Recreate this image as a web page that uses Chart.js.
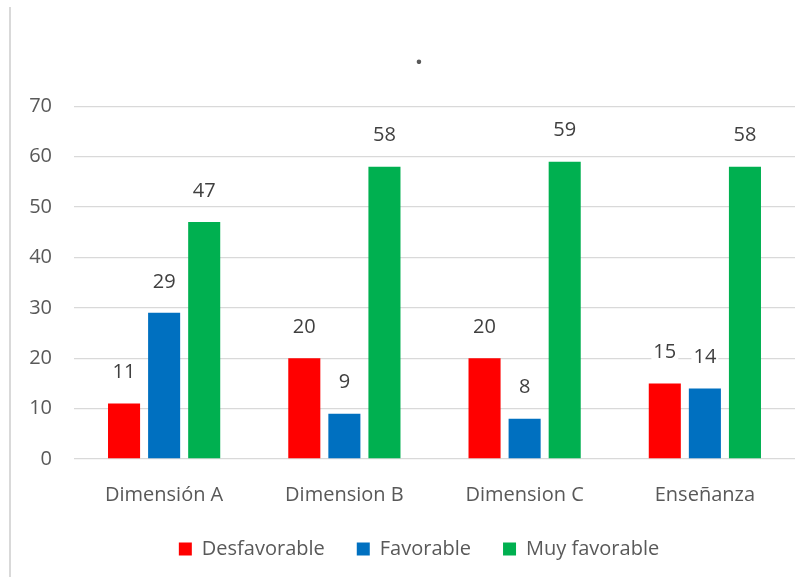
<!DOCTYPE html>
<html>
<head>
<meta charset="utf-8">
<script src="https://cdn.jsdelivr.net/npm/chart.js@4/dist/chart.umd.min.js"></script>
<style>
  html, body { margin: 0; padding: 0; background: #ffffff; }
  #wrap { position: relative; width: 810px; height: 577px; overflow: hidden; }
  #edge { position: absolute; left: 9px; top: 7px; width: 2px; height: 570px; background: #D9D9D9; z-index: 2; }
  canvas { position: absolute; left: 0; top: 0; }
</style>
</head>
<body>
<div id="wrap">
  <div id="edge"></div>
  <canvas id="c" width="840" height="577"></canvas>
</div>
<script>
const categories = ['Dimensión A', 'Dimension B', 'Dimension C', 'Enseñanza'];
const seriesNames = ['Desfavorable', 'Favorable', 'Muy favorable'];
const desfavorable = [11, 20, 20, 15];
const favorable = [29, 9, 8, 14];
const muyFavorable = [47, 58, 59, 58];
const yTicks = [0, 10, 20, 30, 40, 50, 60, 70];
const chartTitle = '.';

const colors = ['#FF0000', '#0070C0', '#00B050'];
const textColor = '#595959';
const FONT = "'Open Sans', 'Noto Sans', sans-serif";

const valueLabels = {
  id: 'valueLabels',
  afterDatasetsDraw(chart) {
    const ctx = chart.ctx;
    ctx.save();
    ctx.font = '20px ' + FONT;
    ctx.textAlign = 'center';
    ctx.textBaseline = 'middle';
    chart.data.datasets.forEach((ds, di) => {
      const meta = chart.getDatasetMeta(di);
      meta.data.forEach((bar, i) => {
        const txt = String(ds.data[i]);
        const x = bar.x;
        const y = bar.y - 31;
        const w = ctx.measureText(txt).width + 4;
        ctx.fillStyle = '#ffffff';
        ctx.fillRect(x - w / 2, y - 12, w, 22);
        ctx.fillStyle = '#404040';
        ctx.fillText(txt, x, y);
      });
    });
    ctx.restore();
  }
};

new Chart(document.getElementById('c'), {
  type: 'bar',
  data: {
    labels: categories,
    datasets: [
      { label: seriesNames[0], data: desfavorable, backgroundColor: colors[0] },
      { label: seriesNames[1], data: favorable, backgroundColor: colors[1] },
      { label: seriesNames[2], data: muyFavorable, backgroundColor: colors[2] }
    ]
  },
  options: {
    responsive: false,
    animation: false,
    devicePixelRatio: 1,
    layout: { padding: { top: 0, left: 0, right: 2, bottom: 8 } },
    datasets: { bar: { categoryPercentage: 0.667, barPercentage: 0.8 } },
    plugins: {
      title: {
        display: true,
        text: chartTitle,
        color: textColor,
        font: { family: FONT, size: 26, weight: 'bold' },
        padding: { top: 41, bottom: 34 }
      },
      legend: {
        position: 'bottom',
        labels: {
          boxWidth: 13,
          boxHeight: 13,
          padding: 32,
          color: textColor,
          font: { family: FONT, size: 20 }
        }
      },
      tooltip: { enabled: false }
    },
    scales: {
      x: {
        grid: { display: false },
        border: { display: false },
        ticks: { color: textColor, font: { family: FONT, size: 20 }, padding: 16, maxRotation: 0 },
        afterFit(scale) { scale.height = 48; }
      },
      y: {
        min: 0,
        max: 70,
        afterBuildTicks(scale) { scale.ticks = yTicks.map(v => ({ value: v })); },
        grid: { color: '#D9D9D9', lineWidth: 1.3, drawTicks: false },
        border: { display: false },
        ticks: { color: textColor, font: { family: FONT, size: 20 }, padding: 22 },
        afterFit(scale) { scale.width = 74; }
      },
      yRight: {
        position: 'right',
        display: true,
        grid: { display: false },
        border: { display: false },
        ticks: { display: false },
        afterFit(scale) { scale.width = 43; }
      }
    }
  },
  plugins: [valueLabels]
});
</script>
</body>
</html>
